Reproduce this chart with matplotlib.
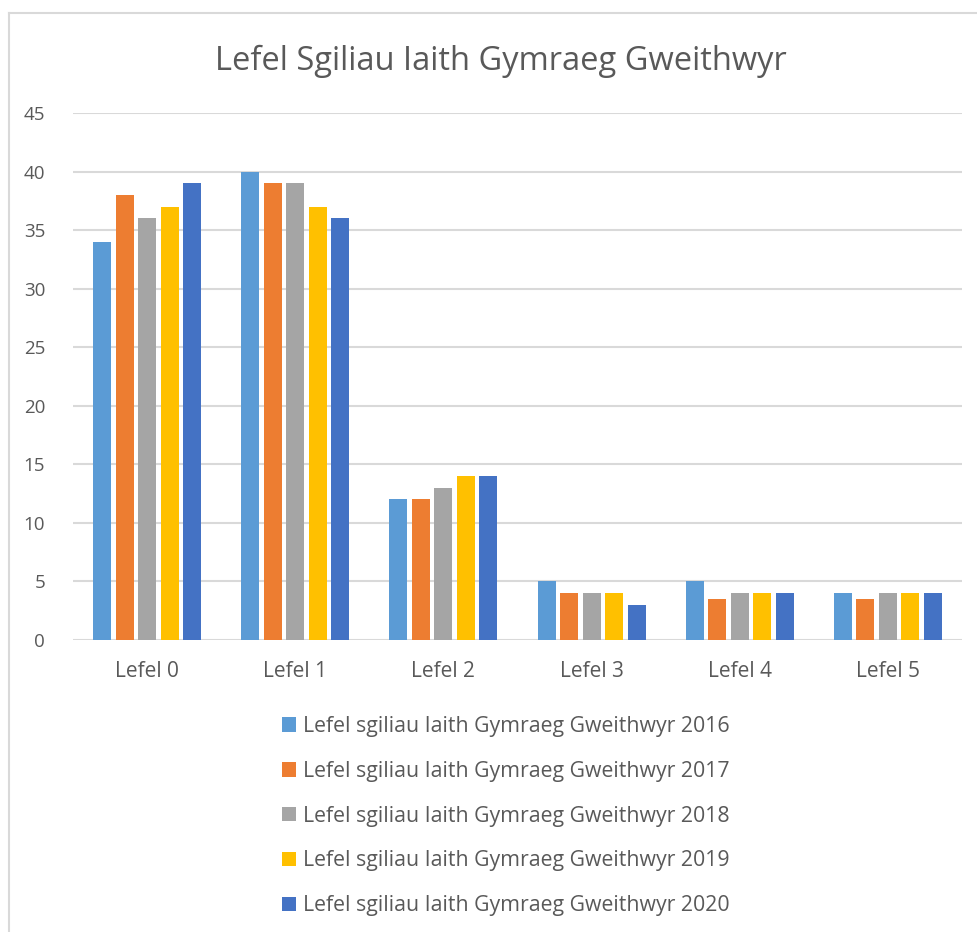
import numpy as np
import matplotlib.pyplot as plt
from matplotlib.lines import Line2D

plt.rcParams['font.family'] = ['Open Sans', 'DejaVu Sans']

# data
categories = ["Lefel 0", "Lefel 1", "Lefel 2", "Lefel 3", "Lefel 4", "Lefel 5"]
years = ["2016", "2017", "2018", "2019", "2020"]
vals_2016 = [34, 40, 12, 5, 5, 4]
vals_2017 = [38, 39, 12, 4, 3.5, 3.5]
vals_2018 = [36, 39, 13, 4, 4, 4]
vals_2019 = [37, 37, 14, 4, 4, 4]
vals_2020 = [39, 36, 14, 3, 4, 4]
series = [vals_2016, vals_2017, vals_2018, vals_2019, vals_2020]
colors = ["#5B9BD5", "#ED7D31", "#A5A5A5", "#FFC000", "#4472C4"]
yticks = [0, 5, 10, 15, 20, 25, 30, 35, 40, 45]

TXT = "#595959"
GRID = "#d9d9d9"

W, H = 977, 932
fig = plt.figure(figsize=(W / 100, H / 100), dpi=100)

# chart frame (only top and left edges are visible in the crop)
fig.add_artist(Line2D([9 / W, 9 / W], [0, 1 - 13 / H], color=GRID, lw=1.5))
fig.add_artist(Line2D([9 / W, 1], [1 - 13 / H, 1 - 13 / H], color=GRID, lw=1.5))

ax = fig.add_axes([73 / W, 1 - 640 / H, (962 - 73) / W, (640 - 113) / H])

x = np.arange(len(categories))
step = 0.152
bw = 0.122
for i, (vals, c) in enumerate(zip(series, colors)):
    ax.bar(x + (i - 2) * step, vals, width=bw, color=c, zorder=3,
           label="Lefel sgiliau Iaith Gymraeg Gweithwyr " + years[i])

ax.set_xlim(-0.5, len(categories) - 0.5)
ax.set_ylim(0, 45)
ax.set_yticks(yticks)
ax.set_xticks(x)
ax.set_xticklabels(categories)
ax.grid(axis='y', color=GRID, lw=1.5, zorder=0)
for s in ax.spines.values():
    s.set_visible(False)
ax.tick_params(axis='both', length=0, colors=TXT)
ax.tick_params(axis='y', pad=20, labelsize=13.5)
ax.tick_params(axis='x', pad=15, labelsize=15)

fig.text(501 / W, 1 - 61 / H, "Lefel Sgiliau Iaith Gymraeg Gweithwyr",
         ha='center', va='center', color=TXT, fontsize=23.5)

ax.legend(loc='upper left', bbox_to_anchor=(282 / W, 1 - 716 / H),
          bbox_transform=fig.transFigure, frameon=False, fontsize=15.3,
          labelcolor=TXT, handlelength=0.67, handleheight=0.67,
          handletextpad=0.3, labelspacing=1.12, borderpad=0, borderaxespad=0)

fig.savefig("out.png", dpi=100)
